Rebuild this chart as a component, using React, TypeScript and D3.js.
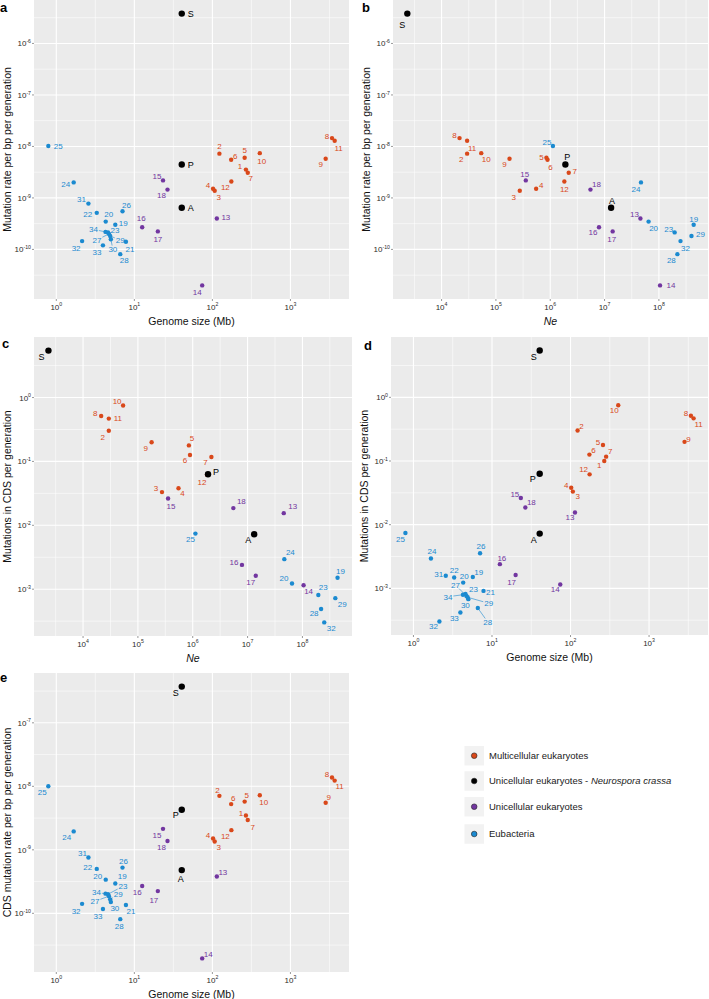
import React from 'react';
import * as d3 from 'd3';

const FONT = "'Liberation Sans', Arial, Helvetica, sans-serif";

// ---------------- data ----------------
const speciesIds = [
  '1', '2', '3', '4', '5', '6', '7', '8', '9', '10', '11', '12',
  '13', '14', '15', '16', '17', '18',
  '19', '20', '21', '22', '23', '24', '25', '26', '27', '28', '29', '30', '31', '32', '33', '34',
  'S', 'P', 'A',
];

const speciesGroup = [
  0, 0, 0, 0, 0, 0, 0, 0, 0, 0, 0, 0,
  2, 2, 2, 2, 2, 2,
  3, 3, 3, 3, 3, 3, 3, 3, 3, 3, 3, 3, 3, 3, 3, 3,
  1, 1, 1,
];

const genomeSizeMb = [
  269, 123, 107, 102, 259, 174, 284, 3410, 2830, 405, 3690, 175,
  114, 74, 23.3, 12.6, 20, 26.6,
  5.7, 4.3, 7.8, 3.3, 4.6, 1.67, 0.79, 7.05, 4.73, 6.6, 4.9, 5.0, 2.58, 2.14, 3.96, 4.27,
  40.5, 40.5, 40.5,
];

const effectivePopSize: (number | null)[] = [
  null, 29500, 275000, 550000, 851000, 891000, 2190000, 21400, 178000, 53700, 29500, 1820000,
  45700000, 105000000, 355000, 7900000, 14100000, 5500000,
  437000000, 64600000, null, null, 195000000, 46800000, 1120000, null, null, 219000000, 398000000, null, null, 250000000, null, null,
  2340, 1900000, 13200000,
];

const mutationRatePerBp = [
  3.55e-9, 7.24e-9, 1.38e-9, 1.51e-9, 6.03e-9, 5.5e-9, 3.09e-9, 1.45e-8, 5.75e-9, 7.41e-9, 1.29e-8, 2.09e-9,
  3.98e-10, 2.0e-11, 2.19e-9, 2.69e-10, 2.24e-10, 1.45e-9,
  3.02e-10, 3.47e-10, 1.41e-10, 5.13e-10, 2.14e-10, 2.0e-9, 1.02e-8, 5.5e-10, 2.0e-10, 8.1e-11, 1.82e-10, 1.58e-10, 7.76e-10, 1.45e-10, 1.2e-10, 2.19e-10,
  3.8e-6, 4.47e-9, 6.46e-10,
];

const cdsMutationsPerGen = [
  0.1, 0.302, 0.0331, 0.038, 0.178, 0.126, 0.117, 0.513, 0.2, 0.75, 0.468, 0.0617,
  0.0155, 0.00115, 0.0263, 0.0024, 0.00162, 0.0186,
  0.00151, 0.00123, 0.000912, 0.00148, 0.000813, 0.00295, 0.00741, 0.00355, 0.000759, 0.00049, 0.000724, 0.000676, 0.00158, 0.000302, 0.000417, 0.000794,
  5.43, 0.063, 0.00724,
];

const cdsMutationRatePerBp = [
  3.47e-9, 7.08e-9, 1.35e-9, 1.51e-9, 5.75e-9, 5.25e-9, 2.95e-9, 1.38e-8, 5.5e-9, 7.24e-9, 1.23e-8, 2.04e-9,
  3.8e-10, 1.95e-11, 2.14e-9, 2.69e-10, 2.24e-10, 1.38e-9,
  2.95e-10, 3.39e-10, 1.35e-10, 5.01e-10, 2.0e-10, 1.95e-9, 1.0e-8, 5.25e-10, 1.86e-10, 8.1e-11, 1.66e-10, 1.51e-10, 7.59e-10, 1.41e-10, 1.17e-10, 2.04e-10,
  3.72e-7, 4.27e-9, 4.79e-10,
];

const groupNames = [
  'Multicellular eukaryotes',
  'Unicellular eukaryotes - ',
  'Unicellular eukaryotes',
  'Eubacteria',
];
const groupItalicSuffix = ['', 'Neurospora crassa', '', ''];
const groupColors = ['#d9481a', '#000000', '#7236a0', '#1b8ad0'];

// ---------------- label nudges (layout) ----------------
type Nudge = Record<string, number[]>;

const nudgeA: Nudge = {
  S: [9, 0], P: [9, 0], A: [9, 0], '25': [10, 0], '24': [-8, 2], '31': [-7, -4], '22': [-9, 1], '20': [3, -7],
  '26': [4, -6], '19': [8, -2], '34': [-12, -2.5, 1], '23': [7, -2], '29': [10, 4, 1], '27': [-12, 6, 1], '30': [2, 10, 1],
  '32': [-6, 7], '33': [-6, 7], '21': [4, 7], '28': [4, 6], '16': [-1, -9], '17': [0, 8], '15': [-6, -4], '18': [-6, 6],
  '13': [9, -1], '14': [-5, 7], '2': [0, -7], '6': [4, -4], '5': [0, -8], '10': [2, 8], '1': [-6, -3], '7': [3, 6],
  '12': [-6, 6], '4': [-5, -4], '3': [4, 6], '8': [-5, -2], '11': [4, 7], '9': [-5, 5],
};
const nudgeB: Nudge = {
  S: [-5, 11], '8': [-5, -3], '11': [5, 7], '2': [-6, 6], '10': [5, 6], '9': [-5, 5], '5': [-5, -1], '6': [3, 7],
  P: [2, -8], '7': [6, -1], '12': [0, 8], '25': [-6, -4], '15': [-1, -6], '4': [5, -4], '3': [-6, 6], '18': [6, -5],
  A: [1, -7], '24': [-5, 7], '13': [-6, -4], '20': [5, 7], '16': [-6, 5], '17': [-1, 8], '23': [-6, -3], '19': [0, -6],
  '29': [9, -2], '32': [5, 7], '28': [-6, 6], '14': [11, 0],
};
const nudgeC: Nudge = {
  S: [-7, 6], '10': [-6, -4], '8': [-6, -3], '11': [9, 0], '2': [-6, 6], '9': [-6, 6], '5': [3, -7], '6': [-5, 5],
  '7': [-6, 5], P: [8, -2], '12': [-5, 7], '3': [-6, -4], '4': [4, 5], '15': [3, 8], '18': [8, -7], '13': [9, -7],
  '25': [-5, 6], A: [-6, 6], '24': [6, -7], '16': [-8, -3], '17': [-5, 6], '20': [-8, -5], '14': [5, 6], '23': [5, -8],
  '19': [3, -7], '29': [7, 6], '28': [-7, 4], '32': [7, 6],
};
const nudgeD: Nudge = {
  S: [-6, 6], P: [-7, 5], A: [-6, 6], '10': [-4, 5], '8': [-5, -3], '11': [5, 6], '9': [4, -3], '2': [4, -4],
  '5': [-5, -3], '6': [4, -4], '7': [4, -5], '1': [-5, 4], '12': [-6, -5], '4': [-5, -3], '3': [5, 5], '15': [-6, -4],
  '18': [6, -5], '13': [-5, 5], '25': [-5, 6], '24': [1, -7], '26': [1, -7], '16': [2, -6], '31': [-7, -1], '22': [0, -7],
  '20': [1, -6], '19': [6, -5], '17': [-4, 7], '14': [-5, 5], '21': [7, 1], '27': [-11, -11, 1], '23': [8, -5],
  '34': [-15, 2, 1], '29': [21, 6, 1], '30': [-3, 6], '28': [10, 14, 1], '33': [-6, 6], '32': [-6, 5],
};
const nudgeE: Nudge = {
  S: [-6, 6], P: [-6, 5], A: [-1, 9], '25': [-6, 6], '24': [-7, 6], '31': [-6, -4], '22': [-9, -2], '26': [1, -6],
  '20': [-8, -3], '19': [7, -7], '16': [-5, 6], '17': [-4, 9], '15': [-6, 6], '18': [-6, 6], '13': [6, -4], '14': [6, -4],
  '2': [-2, -6], '6': [2, -6], '5': [2, -6], '10': [4, 7], '1': [-5, -2], '7': [5, 7], '12': [-6, 6], '4': [-5, -3],
  '3': [4, 6], '8': [-5, -3], '11': [5, 6], '9': [3, -6], '32': [-6, 7], '33': [-5, 7], '21': [5, 6], '28': [-1, 7],
  '30': [4, 6], '34': [-9, -1, 1], '23': [15, -8, 1], '29': [8, -5, 1], '27': [-14, 5, 1],
};

// ---------------- panel ----------------
interface PanelProps {
  x0: number; x1: number; y0: number; y1: number;
  xs: (number | null)[]; ys: (number | null)[];
  xTitle: string; xItalic?: boolean; yTitle: string;
  letter: string; lx: number; ly: number;
  nudges: Nudge;
}

function TickLabel({ x, y, exp, anchor }: { x: number; y: number; exp: number; anchor: string }) {
  return (
    <text x={x} y={y} textAnchor={anchor} fontSize={8} fill="#2b2b2b" fontFamily={FONT}>
      <tspan>10</tspan>
      <tspan dy={-3.4} fontSize={5.2}>{String(exp)}</tspan>
    </text>
  );
}

function Panel(p: PanelProps) {
  const idx = speciesIds.map((_, i) => i).filter((i) => p.xs[i] != null && p.ys[i] != null);
  const ext = (arr: (number | null)[]) => {
    const e = d3.extent(idx, (i) => Math.log10(arr[i] as number)) as [number, number];
    const pad = (e[1] - e[0]) * 0.05;
    return [e[0] - pad, e[1] + pad];
  };
  const [xl, xh] = ext(p.xs);
  const [yl, yh] = ext(p.ys);
  const x = d3.scaleLog().domain([Math.pow(10, xl), Math.pow(10, xh)]).range([p.x0, p.x1]);
  const y = d3.scaleLog().domain([Math.pow(10, yl), Math.pow(10, yh)]).range([p.y1, p.y0]);
  const majors = (lo: number, hi: number) => d3.range(Math.ceil(lo), Math.floor(hi) + 1);
  const minors = (lo: number, hi: number) =>
    d3.range(Math.ceil(lo - 0.5), Math.floor(hi - 0.5) + 1).map((k) => k + 0.5);

  const xMaj = majors(xl, xh), yMaj = majors(yl, yh);
  const xMin = minors(xl, xh), yMin = minors(yl, yh);

  const order = [...idx].sort((a, b) => (speciesGroup[a] === 1 ? 1 : 0) - (speciesGroup[b] === 1 ? 1 : 0));

  const labels = order.map((i) => {
    const id = speciesIds[i];
    const px = x(p.xs[i] as number);
    const py = y(p.ys[i] as number);
    const n = p.nudges[id] || [0, -7];
    const dx = n[0], dy = n[1];
    const color = groupColors[speciesGroup[i]];
    let seg: number[] | null = null;
    if (n[2]) {
      const len = Math.hypot(dx, dy);
      const hw = id.length * 2.3 + 0.8, hh = 3.6;
      const t = Math.min(hw / Math.max(Math.abs(dx), 1e-6), hh / Math.max(Math.abs(dy), 1e-6));
      if (t < 1) seg = [px + (dx / len) * 1.5, py + (dy / len) * 1.5, px + dx - dx * t, py + dy - dy * t];
    }
    return { id, px, py, lx: px + dx, ly: py + dy, color, seg, big: speciesGroup[i] === 1 };
  });

  const cx = (p.x0 + p.x1) / 2, cy = (p.y0 + p.y1) / 2;

  return (
    <g>
      <rect x={p.x0} y={p.y0} width={p.x1 - p.x0} height={p.y1 - p.y0} fill="#ebebeb" />
      {xMin.map((v) => (
        <line key={'xm' + v} x1={x(Math.pow(10, v))} x2={x(Math.pow(10, v))} y1={p.y0} y2={p.y1} stroke="#fff" strokeWidth={0.55} />
      ))}
      {yMin.map((v) => (
        <line key={'ym' + v} x1={p.x0} x2={p.x1} y1={y(Math.pow(10, v))} y2={y(Math.pow(10, v))} stroke="#fff" strokeWidth={0.55} />
      ))}
      {xMaj.map((v) => (
        <line key={'xM' + v} x1={x(Math.pow(10, v))} x2={x(Math.pow(10, v))} y1={p.y0} y2={p.y1} stroke="#fff" strokeWidth={1.1} />
      ))}
      {yMaj.map((v) => (
        <line key={'yM' + v} x1={p.x0} x2={p.x1} y1={y(Math.pow(10, v))} y2={y(Math.pow(10, v))} stroke="#fff" strokeWidth={1.1} />
      ))}
      {labels.map((l) => (
        <circle key={'pt' + l.id} cx={l.px} cy={l.py} r={l.big ? 3.2 : 2.2} fill={l.color} />
      ))}
      {labels.filter((l) => l.seg).map((l) => (
        <line key={'sg' + l.id} x1={l.seg![0]} y1={l.seg![1]} x2={l.seg![2]} y2={l.seg![3]} stroke={l.color} strokeWidth={0.6} />
      ))}
      {labels.map((l) => (
        <text key={'lb' + l.id} x={l.lx} y={l.ly} dy="0.35em" textAnchor="middle" fontSize={l.big ? 9 : 8}
          fill={l.color} fontFamily={FONT}>{l.id}</text>
      ))}
      {xMaj.map((v) => (
        <g key={'xt' + v}>
          <line x1={x(Math.pow(10, v))} x2={x(Math.pow(10, v))} y1={p.y1} y2={p.y1 + 2} stroke="#333" strokeWidth={0.5} />
          <TickLabel x={x(Math.pow(10, v))} y={p.y1 + 10.5} exp={v} anchor="middle" />
        </g>
      ))}
      {yMaj.map((v) => (
        <g key={'yt' + v}>
          <line x1={p.x0 - 2} x2={p.x0} y1={y(Math.pow(10, v))} y2={y(Math.pow(10, v))} stroke="#333" strokeWidth={0.5} />
          <TickLabel x={p.x0 - 3} y={y(Math.pow(10, v)) + 3} exp={v} anchor="end" />
        </g>
      ))}
      <text x={cx} y={p.y1 + 26} textAnchor="middle" fontSize={10.5} fill="#111" fontFamily={FONT}
        fontStyle={p.xItalic ? 'italic' : 'normal'}>{p.xTitle}</text>
      <text transform={`translate(${p.x0 - 27},${cy}) rotate(-90)`} y={3.6} textAnchor="middle" fontSize={10.5}
        fill="#111" fontFamily={FONT}>{p.yTitle}</text>
      <text x={p.lx} y={p.ly} fontSize={13} fontWeight="bold" fill="#000" fontFamily={FONT}>{p.letter}</text>
    </g>
  );
}

const legendY = [755.7, 781, 806.7, 834];

export default function App() {
  return (
    <svg width={709} height={999} style={{ position: 'absolute', left: 0, top: 0, background: '#fff' }}>
      <Panel x0={34} x1={349} y0={0} y1={299} xs={genomeSizeMb} ys={mutationRatePerBp}
        xTitle="Genome size (Mb)" yTitle="Mutation rate per bp per generation" letter="a" lx={0} ly={12} nudges={nudgeA} />
      <Panel x0={393} x1={708} y0={0} y1={299} xs={effectivePopSize} ys={mutationRatePerBp}
        xTitle="Ne" xItalic yTitle="Mutation rate per bp per generation" letter="b" lx={362} ly={12} nudges={nudgeB} />
      <Panel x0={34} x1={352} y0={337} y1={636} xs={effectivePopSize} ys={cdsMutationsPerGen}
        xTitle="Ne" xItalic yTitle="Mutations in CDS per generation" letter="c" lx={2} ly={348} nudges={nudgeC} />
      <Panel x0={391} x1={708} y0={337} y1={635} xs={genomeSizeMb} ys={cdsMutationsPerGen}
        xTitle="Genome size (Mb)" yTitle="Mutations in CDS per generation" letter="d" lx={364} ly={350} nudges={nudgeD} />
      <Panel x0={34} x1={349} y0={673} y1={972} xs={genomeSizeMb} ys={cdsMutationRatePerBp}
        xTitle="Genome size (Mb)" yTitle="CDS mutation rate per bp per generation" letter="e" lx={0} ly={682} nudges={nudgeE} />
      {groupNames.map((name, i) => (
        <g key={'lg' + i}>
          <rect x={464.5} y={legendY[i] - 9.75} width={19.5} height={19.5} fill="#f2f2f2" />
          <circle cx={474.2} cy={legendY[i]} r={2.8} fill={groupColors[i]} stroke="#222" strokeWidth={0.6} />
          <text x={489} y={legendY[i] + 3.3} fontSize={9.5} fill="#1a1a1a" fontFamily={FONT}>
            {name}
            {groupItalicSuffix[i] ? <tspan fontStyle="italic">{groupItalicSuffix[i]}</tspan> : null}
          </text>
        </g>
      ))}
    </svg>
  );
}
